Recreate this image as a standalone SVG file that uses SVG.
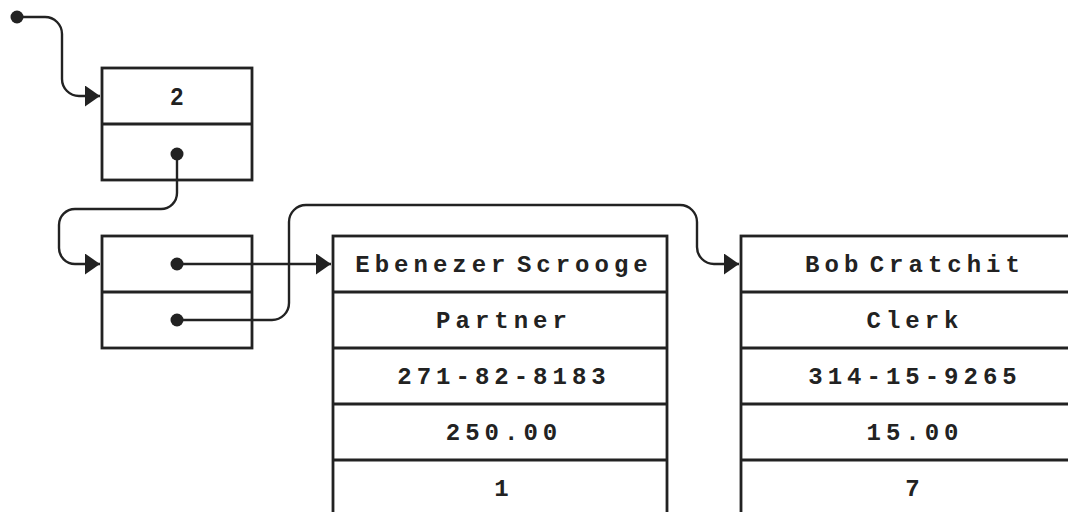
<svg xmlns="http://www.w3.org/2000/svg" width="1068" height="512" viewBox="0 0 1068 512">
<style>
.box{fill:#fff;stroke:#222;stroke-width:2.8}
.div{stroke:#222;stroke-width:2.8}
.t{font-family:"Liberation Mono","Courier New",monospace;font-weight:bold;font-size:24px;letter-spacing:5px;word-spacing:-13px;fill:#222;text-anchor:middle}
.n{font-family:"Liberation Sans",Arial,sans-serif;font-weight:bold;font-size:23px;fill:#222;text-anchor:middle}
.c{fill:none;stroke:#222;stroke-width:2.4}
.dot{fill:#222}
</style>
<defs>
<marker id="arr" markerWidth="15" markerHeight="21" refX="15" refY="10.5" orient="auto" markerUnits="userSpaceOnUse">
<path d="M0,0 L15,10.5 L0,21 Z" fill="#222"/>
</marker>
</defs>
<rect width="1068" height="512" fill="#fff"/>
<g id="list-head">
<rect class="box" x="102" y="68" width="150" height="112"/>
<line class="div" x1="102" y1="124" x2="252" y2="124"/>
<text class="n" x="177" y="105">2</text>
</g>
<g id="list-node">
<rect class="box" x="102" y="236" width="150" height="112"/>
<line class="div" x1="102" y1="292" x2="252" y2="292"/>
</g>
<g id="record-scrooge">
<rect class="box" x="333" y="236" width="334" height="290"/>
<line class="div" x1="333" y1="292" x2="667" y2="292"/>
<line class="div" x1="333" y1="348" x2="667" y2="348"/>
<line class="div" x1="333" y1="404" x2="667" y2="404"/>
<line class="div" x1="333" y1="460" x2="667" y2="460"/>
<text class="t" x="504" y="272">Ebenezer Scrooge</text>
<text class="t" x="504" y="328">Partner</text>
<text class="t" x="504" y="384">271-82-8183</text>
<text class="t" x="504" y="440">250.00</text>
<text class="t" x="504" y="496">1</text>
</g>
<g id="record-cratchit">
<rect class="box" x="741" y="236" width="334" height="290"/>
<line class="div" x1="741" y1="292" x2="1075" y2="292"/>
<line class="div" x1="741" y1="348" x2="1075" y2="348"/>
<line class="div" x1="741" y1="404" x2="1075" y2="404"/>
<line class="div" x1="741" y1="460" x2="1075" y2="460"/>
<text class="t" x="915" y="272">Bob Cratchit</text>
<text class="t" x="915" y="328">Clerk</text>
<text class="t" x="915" y="384">314-15-9265</text>
<text class="t" x="915" y="440">15.00</text>
<text class="t" x="915" y="496">7</text>
</g>
<g id="connectors">
<path class="c" d="M17,17 H45 A17,17 0 0 1 62,34 V79 A17,17 0 0 0 79,96 H100" marker-end="url(#arr)"/>
<circle class="dot" cx="17" cy="17" r="6.5"/>
<path class="c" d="M177,154 V193 A16,16 0 0 1 161,209 H75 A16,16 0 0 0 59,225 V248 A16,16 0 0 0 75,264 H100" marker-end="url(#arr)"/>
<circle class="dot" cx="177" cy="154" r="6.5"/>
<path class="c" d="M177,264 H331" marker-end="url(#arr)"/>
<circle class="dot" cx="177" cy="264" r="6.5"/>
<path class="c" d="M177,320 H272 A17,17 0 0 0 289,303 V222 A17,17 0 0 1 306,205 H680 A17,17 0 0 1 697,222 V247 A17,17 0 0 0 714,264 H739" marker-end="url(#arr)"/>
<circle class="dot" cx="177" cy="320" r="6.5"/>
</g>
</svg>
